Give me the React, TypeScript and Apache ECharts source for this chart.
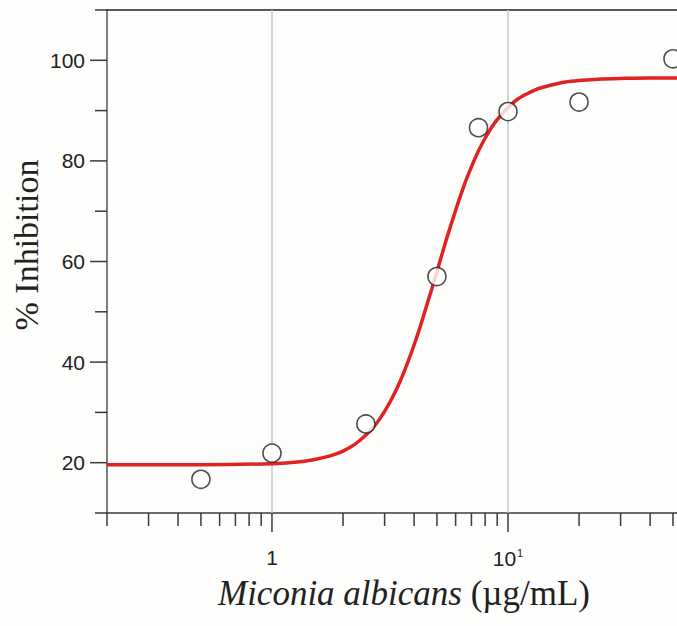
import React, { useEffect, useRef } from "react";
import * as echarts from "echarts";

// Observed data points (concentration in µg/mL, % inhibition)
const concentrations = [0.5, 1, 2.5, 5, 7.5, 10, 20, 50];
const inhibition = [16.7, 21.9, 27.7, 57.0, 86.6, 89.8, 91.7, 100.3];

// Fitted curve
const curveX = [0.2, 0.5, 1, 1.25, 1.5, 1.75, 2, 2.25, 2.5, 2.75, 3, 3.25, 3.5, 3.75, 4, 4.25, 4.5, 4.75, 5, 5.5, 6, 6.5, 7, 7.5, 8, 8.5, 9, 10, 11, 12, 13.5, 15, 17.5, 20, 25, 30, 40, 52];
const curveY = [19.6, 19.6, 19.8, 20.1, 20.6, 21.3, 22.3, 23.7, 25.5, 27.6, 30.2, 33.1, 36.3, 39.8, 43.4, 47.1, 50.9, 54.5, 58.0, 64.6, 70.2, 75.0, 78.8, 82.0, 84.5, 86.6, 88.2, 90.6, 92.3, 93.3, 94.4, 95.0, 95.7, 96.0, 96.3, 96.4, 96.5, 96.5];

// Axes
const xMin = 0.2;
const xMax = 52;
const yMin = 10;
const yMax = 110;
const gridLinesX = [1, 10];
const xMajorTicks = [1, 10];
const xMinorTicks = [0.2, 0.3, 0.4, 0.5, 0.6, 0.7, 0.8, 0.9, 2, 3, 4, 5, 6, 7, 8, 9, 20, 30, 40, 50];
const yMajorTicks = [20, 40, 60, 80, 100];
const yMinorTicks = [10, 30, 50, 70, 90, 110];

const AXIS = "#3a3a3a";

function xTickRenderer(len: number) {
  return (params: any, api: any) => {
    const p = api.coord([api.value(0), api.value(1)]);
    return {
      type: "line",
      shape: { x1: p[0], y1: p[1], x2: p[0], y2: p[1] + len },
      style: { stroke: AXIS, lineWidth: 1.5 },
    };
  };
}
function yTickRenderer(len: number) {
  return (params: any, api: any) => {
    const p = api.coord([api.value(0), api.value(1)]);
    return {
      type: "line",
      shape: { x1: p[0] - len, y1: p[1], x2: p[0], y2: p[1] },
      style: { stroke: AXIS, lineWidth: 1.5 },
    };
  };
}

export default function App() {
  const ref = useRef<HTMLDivElement>(null);
  useEffect(() => {
    if (!ref.current) return;
    const chart = echarts.init(ref.current, null, { renderer: "svg" });
    const option: any = {
      animation: false,
      backgroundColor: "#fdfdfb",
      grid: { left: 107, top: 10, right: 0, bottom: 113 },
      xAxis: [
        {
          type: "log",
          logBase: 10,
          min: xMin,
          max: xMax,
          axisLine: { show: true, lineStyle: { color: AXIS, width: 1.5 } },
          axisTick: { show: false },
          splitLine: { show: false },
          axisLabel: {
            margin: 34,
            color: "#222",
            fontSize: 21,
            fontFamily: "Liberation Sans",
            showMinLabel: false,
            showMaxLabel: false,
            formatter: (v: number) => {
              if (Math.abs(v - 1) < 1e-6) return "{b|1}";
              if (Math.abs(v - 10) < 1e-6) return "{b|10}{s|1}";
              return "";
            },
            rich: {
              b: { fontSize: 21, fontFamily: "Liberation Sans", color: "#222" },
              s: { fontSize: 11, fontFamily: "Liberation Sans", color: "#222", padding: [0, 0, 12, 1] },
            },
          },
        },
        {
          type: "log",
          logBase: 10,
          min: xMin,
          max: xMax,
          position: "top",
          axisLine: { show: true, lineStyle: { color: "#222", width: 1.5 } },
          axisTick: { show: false },
          axisLabel: { show: false },
          splitLine: { show: false },
        },
      ],
      yAxis: {
        type: "value",
        min: yMin,
        max: yMax,
        interval: 10,
        axisLine: { show: true, lineStyle: { color: "#555", width: 1.5 } },
        axisTick: { show: false },
        splitLine: { show: false },
        axisLabel: {
          margin: 22,
          color: "#222",
          fontSize: 21,
          fontFamily: "Liberation Sans",
          formatter: (v: number) => (yMajorTicks.indexOf(v) >= 0 ? String(v) : ""),
        },
      },
      graphic: [
        {
          type: "text",
          x: 26,
          y: 245,
          rotation: Math.PI / 2,
          style: {
            text: "% Inhibition",
            fontSize: 34,
            fontFamily: "Liberation Serif",
            fill: "#222",
            align: "center",
            verticalAlign: "middle",
            textAlign: "center",
            textVerticalAlign: "middle",
          },
        },
        {
          type: "text",
          x: 404,
          y: 593,
          style: {
            text: "{i|Miconia albicans} (µg/mL)",
            fontSize: 35,
            fontFamily: "Liberation Serif",
            fill: "#222",
            align: "center",
            verticalAlign: "middle",
            textAlign: "center",
            textVerticalAlign: "middle",
            rich: {
              i: { fontStyle: "italic", fontSize: 35, fontFamily: "Liberation Serif", fill: "#222" },
            },
          },
        },
      ],
      series: [
        {
          type: "line",
          data: curveX.map((x, i) => [x, curveY[i]]),
          smooth: 0.25,
          showSymbol: false,
          lineStyle: { color: "#e02222", width: 3.5 },
          z: 3,
          markLine: {
            silent: true,
            symbol: ["none", "none"],
            label: { show: false },
            lineStyle: { color: "#c4c8cc", width: 1.5, type: "solid" },
            data: gridLinesX.map((v) => ({ xAxis: v })),
            z: 1,
          },
        },
        {
          type: "scatter",
          data: concentrations.map((x, i) => [x, inhibition[i]]),
          symbol: "circle",
          symbolSize: 18,
          itemStyle: { color: "#ffffff", borderColor: "#222", borderWidth: 1.6 },
          z: 5,
        },
        {
          type: "custom",
          renderItem: xTickRenderer(13),
          data: xMinorTicks.map((v) => [v, yMin]),
          z: 6,
        },
        {
          type: "custom",
          renderItem: xTickRenderer(19),
          data: xMajorTicks.map((v) => [v, yMin]),
          z: 6,
        },
        {
          type: "custom",
          renderItem: yTickRenderer(12),
          data: yMinorTicks.map((v) => [xMin, v]),
          z: 6,
        },
        {
          type: "custom",
          renderItem: yTickRenderer(17),
          data: yMajorTicks.map((v) => [xMin, v]),
          z: 6,
        },
      ],
    };
    chart.setOption(option);
    return () => chart.dispose();
  }, []);
  return (
    <div
      ref={ref}
      style={{ position: "fixed", left: 0, top: 0, width: 677, height: 626 }}
    />
  );
}
